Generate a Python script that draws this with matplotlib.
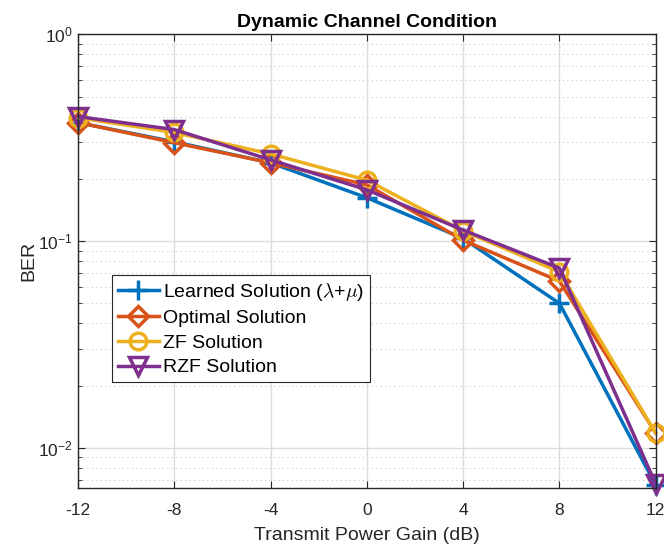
import matplotlib
matplotlib.use("Agg")
import matplotlib.pyplot as plt
from matplotlib.ticker import LogLocator, NullFormatter, FixedLocator

plt.rcParams['font.family'] = ['Liberation Sans', 'DejaVu Sans']
plt.rcParams['mathtext.fontset'] = 'cm'

# transmit power gain (dB) and BER per scheme
gain_db = [-12, -8, -4, 0, 4, 8, 12]
ber_learned = [0.374, 0.302, 0.239, 0.162, 0.103, 0.050, 0.0066]
ber_optimal = [0.374, 0.299, 0.239, 0.187, 0.101, 0.064, 0.0118]
ber_zf = [0.395, 0.335, 0.264, 0.197, 0.112, 0.071, 0.0118]
ber_rzf = [0.400, 0.346, 0.247, 0.177, 0.113, 0.074, 0.0067]

labels = [r'Learned Solution ($\lambda$+$\mu$)', 'Optimal Solution',
          'ZF Solution', 'RZF Solution']
colors = ['#0072BD', '#D95319', '#EDB120', '#7E2F8E']
markers = ['+', 'D', 'o', 'v']
sizes = [14, 10, 12, 13]

fig = plt.figure(figsize=(6.64, 5.48), dpi=100)
ax = fig.add_axes([0.1175, 0.1095, 0.870, 0.828])

for y, lab, c, m, s in zip([ber_learned, ber_optimal, ber_zf, ber_rzf],
                           labels, colors, markers, sizes):
    ax.plot(gain_db, y, color=c, marker=m, markersize=s, linewidth=2.5,
            markeredgewidth=2.5, markerfacecolor='none', label=lab,
            clip_on=False)

ax.set_yscale('log')
ax.set_xlim(-12, 12)
ax.set_ylim(0.0064, 1)
ax.xaxis.set_major_locator(FixedLocator(gain_db))
ax.set_xticklabels([str(g) for g in gain_db])
ax.yaxis.set_major_locator(LogLocator(base=10, numticks=10))
ax.yaxis.set_minor_locator(LogLocator(base=10, subs=range(2, 10), numticks=20))
ax.yaxis.set_minor_formatter(NullFormatter())

ax.grid(True, which='major', color='#dcdcdc', linewidth=1.0, linestyle='-')
ax.grid(True, which='minor', axis='y', color='#c8c8c8', linewidth=0.8,
        linestyle=(0, (1, 3)))
ax.set_axisbelow(True)

for sp in ax.spines.values():
    sp.set_color('#262626')
    sp.set_linewidth(1.0)
ax.tick_params(which='both', direction='in', top=True, right=True,
               colors='#262626', labelsize=12.5)
ax.tick_params(which='major', length=5)
ax.tick_params(which='minor', length=3)
ax.tick_params(axis='x', pad=11)

ax.set_xlabel('Transmit Power Gain (dB)', fontsize=14, color='#262626',
              labelpad=6)
ax.set_ylabel('BER', fontsize=14, color='#262626', labelpad=1)
ax.set_title('Dynamic Channel Condition', fontsize=14, fontweight='bold',
             pad=5)

leg = ax.legend(loc='upper left', bbox_to_anchor=(0.059, 0.47),
                borderaxespad=0, fontsize=14, handlelength=2.1,
                handletextpad=0.2, labelspacing=0.36, borderpad=0.3,
                fancybox=False, framealpha=1, edgecolor='#262626')
leg.get_frame().set_linewidth(0.8)

fig.savefig('out.png', dpi=100)
